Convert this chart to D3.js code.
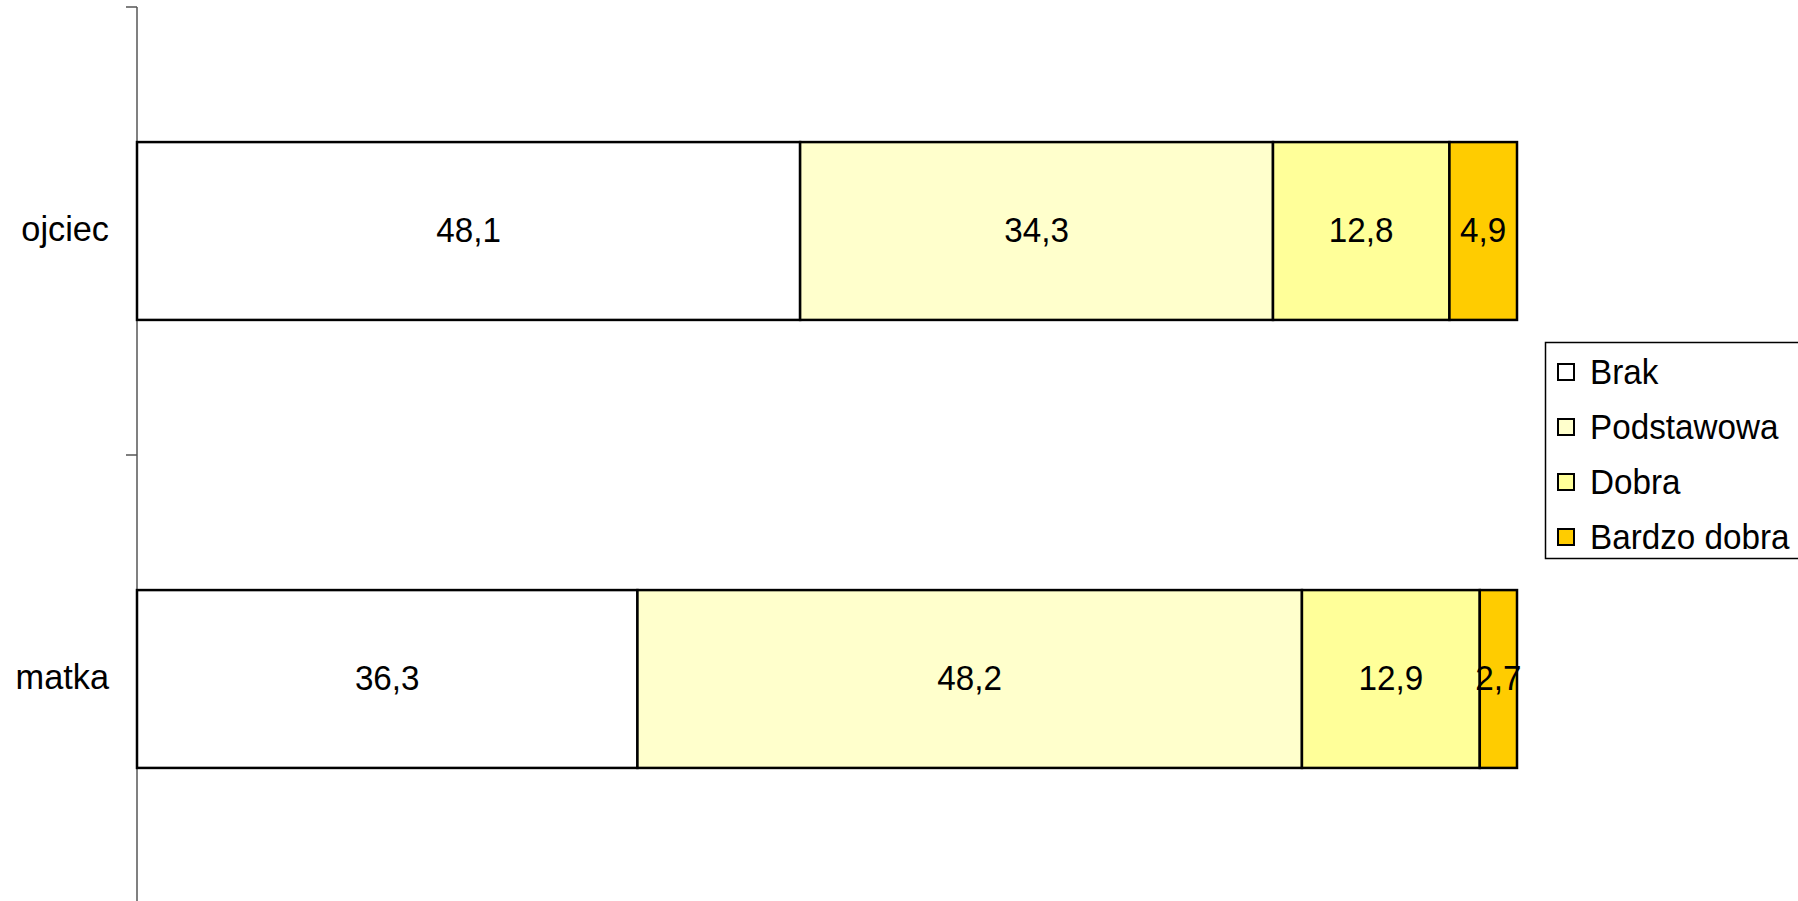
<!DOCTYPE html>
<html><head><meta charset="utf-8">
<script src="https://cdn.jsdelivr.net/npm/d3@7"></script>
<style>html,body{margin:0;padding:0;background:#fff;overflow:hidden}svg{display:block}</style>
</head><body>
<svg id="chart" width="1798" height="901"></svg>
<script>
const categories = ["ojciec", "matka"];
const seriesNames = ["Brak", "Podstawowa", "Dobra", "Bardzo dobra"];
const brak = [48.1, 36.3];
const podstawowa = [34.3, 48.2];
const dobra = [12.8, 12.9];
const bardzoDobra = [4.9, 2.7];
const colors = ["#FFFFFF", "#FFFFCC", "#FFFF99", "#FFCC00"];

const seriesValues = [brak, podstawowa, dobra, bardzoDobra];
const rows = categories.map((c, i) => {
  const r = { cat: c };
  seriesNames.forEach((s, j) => r[s] = seriesValues[j][i]);
  return r;
});
const stack = d3.stack().keys(seriesNames).offset(d3.stackOffsetExpand);
const stacked = stack(rows);

const svg = d3.select("#chart");
const font = "'Liberation Sans', Arial, sans-serif";
const FS = 35;
const x = d3.scaleLinear().domain([0, 1]).range([137, 1517]);
const y = d3.scaleBand().domain(categories).range([7, 903]).paddingInner(0.603).paddingOuter(0.3015);

// axis
const gA = svg.append("g").attr("transform", "translate(137,0)");
gA.append("line").attr("x1", 0).attr("x2", 0).attr("y1", 7).attr("y2", 903).attr("stroke", "#808080").attr("stroke-width", 2);
const tickYs = [0, 1, 2].map(i => 7 + i * y.step());
gA.selectAll("line.tk").data(tickYs).enter().append("line").attr("class", "tk")
  .attr("x1", -11).attr("x2", 0).attr("y1", d => d).attr("y2", d => d).attr("stroke", "#555").attr("stroke-width", 1.5);
categories.forEach(c => {
  svg.append("text")
    .attr("transform", `translate(109,${y(c) + y.bandwidth() / 2 + 10}) scale(0.98,1)`)
    .attr("text-anchor", "end")
    .attr("font-family", font).attr("font-size", FS).text(c);
});

// bars
const g = svg.append("g");
stacked.forEach((s, j) => {
  g.selectAll(null).data(s).enter().append("rect")
    .attr("x", d => x(d[0])).attr("y", d => y(d.data.cat))
    .attr("width", d => x(d[1]) - x(d[0])).attr("height", y.bandwidth())
    .attr("fill", colors[j]).attr("stroke", "#000").attr("stroke-width", 2.5);
});
stacked.forEach((s, j) => {
  g.selectAll(null).data(s).enter().append("text")
    .attr("transform", d => `translate(${(x(d[0]) + x(d[1])) / 2},${y(d.data.cat) + y.bandwidth() / 2 + 11}) scale(0.95,1)`)
    .attr("text-anchor", "middle")
    .attr("font-family", font).attr("font-size", FS)
    .text(d => d3.format(".1f")(d.data[s.key]).replace(".", ","));
});

// legend
const lg = svg.append("g");
lg.append("rect").attr("x", 1545.5).attr("y", 342.5).attr("width", 270).attr("height", 216)
  .attr("fill", "#fff").attr("stroke", "#000").attr("stroke-width", 1.5);
seriesNames.forEach((s, j) => {
  const base = 384 + j * 55;
  lg.append("rect").attr("x", 1558).attr("y", base - 20).attr("width", 16).attr("height", 16)
    .attr("fill", colors[j]).attr("stroke", "#000").attr("stroke-width", 2);
  lg.append("text").attr("transform", `translate(1590,${base}) scale(0.95,1)`)
    .attr("font-family", font).attr("font-size", FS).text(s);
});
</script>
</body></html>
